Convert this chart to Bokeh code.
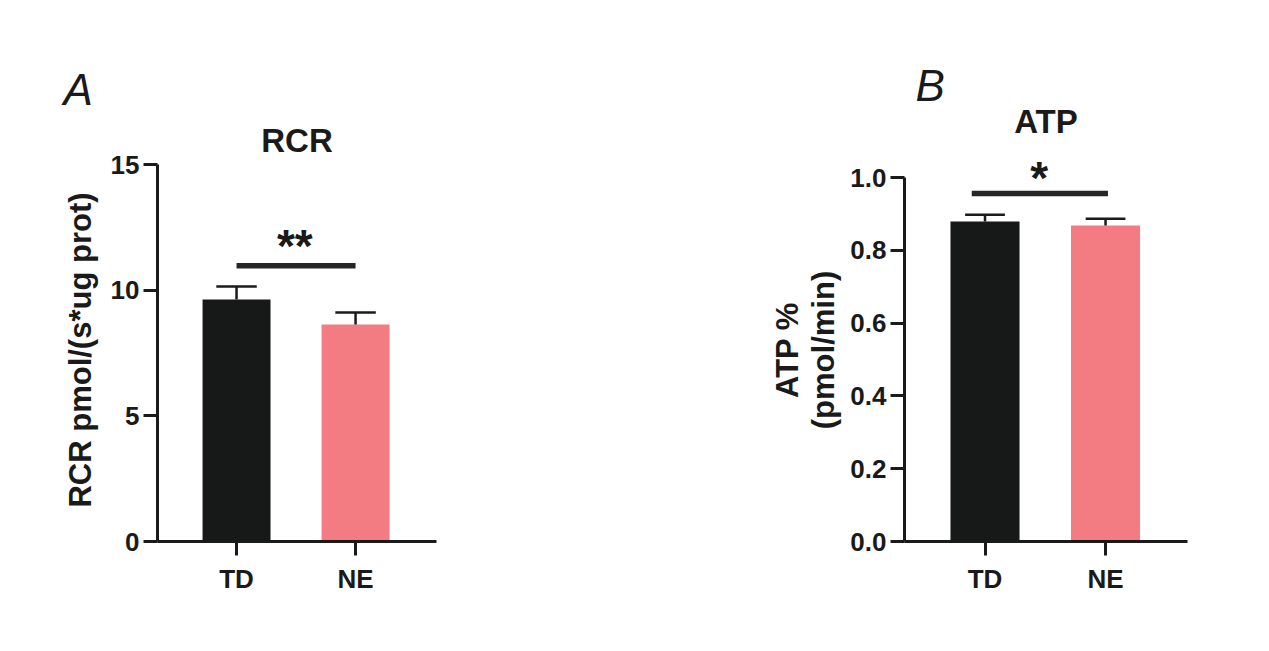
from bokeh.plotting import figure
from bokeh.layouts import row
from bokeh.models import Range1d, FixedTicker, Label, Title
from bokeh.embed import file_html
from bokeh.resources import INLINE

# ---------------- data ----------------
groups = ["TD", "NE"]
group_pos = [1, 2]
bar_colors = ["#171918", "#F27C81"]

rcr_values = [9.63, 8.63]
rcr_errors = [0.52, 0.48]
rcr_sig_y = 10.97
rcr_sig_text = "**"
rcr_ticks = [0, 5, 10, 15]
rcr_tick_labels = ["0", "5", "10", "15"]

atp_values = [0.879, 0.868]
atp_errors = [0.019, 0.019]
atp_sig_y = 0.956
atp_sig_text = "*"
atp_ticks = [0.0, 0.2, 0.4, 0.6, 0.8, 1.0]
atp_tick_labels = ["0.0", "0.2", "0.4", "0.6", "0.8", "1.0"]

FONT = "Liberation Sans"
INK = "#1a1a1a"


def make_panel(width, height, bl, br, bt, bb, xr, yr, ybounds, ticks, tick_labels,
               values, errors, bar_w, cap_w, ylabel, label_standoff):
    p = figure(width=width, height=height, output_backend="svg",
               toolbar_location=None, x_range=Range1d(*xr), y_range=Range1d(*yr),
               min_border_left=bl, min_border_right=br,
               min_border_top=bt, min_border_bottom=bb)
    p.outline_line_color = None
    p.grid.visible = False
    p.background_fill_color = "white"
    p.border_fill_color = "white"

    p.vbar(x=group_pos, top=values, width=bar_w, bottom=0,
           fill_color=bar_colors, line_color=None)
    tops = [v + e for v, e in zip(values, errors)]
    p.segment(x0=group_pos, y0=values, x1=group_pos, y1=tops,
              line_color=INK, line_width=2.5)
    p.segment(x0=[x - cap_w / 2 for x in group_pos], y0=tops,
              x1=[x + cap_w / 2 for x in group_pos], y1=tops,
              line_color=INK, line_width=2.5)

    xa = p.xaxis[0]
    xa.ticker = FixedTicker(ticks=group_pos)
    xa.major_label_overrides = {pos: g for pos, g in zip(group_pos, groups)}
    ya = p.yaxis[0]
    ya.ticker = FixedTicker(ticks=ticks)
    ya.major_label_overrides = {t: s for t, s in zip(ticks, tick_labels)}
    ya.axis_label = ylabel
    ya.bounds = ybounds
    for ax in (xa, ya):
        ax.axis_line_width = 3
        ax.axis_line_color = INK
        ax.major_tick_line_width = 3
        ax.major_tick_line_color = INK
        ax.major_tick_out = 14
        ax.major_tick_in = 0
        ax.minor_tick_line_color = None
        ax.major_label_text_font = FONT
        ax.major_label_text_font_style = "bold"
        ax.major_label_text_font_size = "26px"
        ax.major_label_text_color = INK
        ax.axis_label_text_font = FONT
        ax.axis_label_text_font_style = "bold"
        ax.axis_label_text_font_size = "31px"
        ax.axis_label_text_color = INK
    ya.axis_label_text_line_height = 1.05
    ya.major_label_standoff = 4
    ya.axis_label_standoff = label_standoff
    xa.major_label_standoff = 8
    return p


def add_titles(p, title, letter, title_standoff, letter_offset, letter_standoff):
    p.add_layout(Title(text=title, align="center", text_font=FONT,
                       text_font_style="bold", text_font_size="33px",
                       text_color=INK, standoff=title_standoff), "above")
    p.add_layout(Title(text=letter, align="left", offset=letter_offset,
                       text_font=FONT, text_font_style="italic",
                       text_font_size="44px", text_color=INK,
                       standoff=letter_standoff), "above")


H = 640
TOP = 158
BOTTOM = 99

# Panel A
pa = make_panel(620, H, 157, 184, TOP, BOTTOM, (0.336, 2.68), (0, 15.239), (0, 15),
                rcr_ticks, rcr_tick_labels, rcr_values, rcr_errors,
                0.571, 0.34, "RCR pmol/(s*ug prot)", 10)
pa.segment(x0=[group_pos[0]], y0=[rcr_sig_y], x1=[group_pos[1]], y1=[rcr_sig_y],
           line_color="#262626", line_width=5.5)
pa.add_layout(Label(x=1.49, y=11.74, text=rcr_sig_text, text_font=FONT,
                    text_font_style="bold", text_font_size="46px", text_color=INK,
                    text_align="center", text_baseline="alphabetic"))
add_titles(pa, "RCR", "A", 0, -94, 11)

# Panel B
pb = make_panel(633, H, 284, 66, TOP, BOTTOM, (0.332, 2.68), (0, 1.0522), (0, 1),
                atp_ticks, atp_tick_labels, atp_values, atp_errors,
                0.573, 0.33, "ATP %\n(pmol/min)", 6)
pb.segment(x0=[0.89], y0=[atp_sig_y], x1=[2.02], y1=[atp_sig_y],
           line_color="#262626", line_width=5.5)
pb.add_layout(Label(x=1.45, y=0.998, text=atp_sig_text, text_font=FONT,
                    text_font_style="bold", text_font_size="46px", text_color=INK,
                    text_align="center", text_baseline="alphabetic"))
add_titles(pb, "ATP", "B", 37, 11, -54)

layout = row(pa, pb)
open("out.html", "w").write(file_html(layout, INLINE))
